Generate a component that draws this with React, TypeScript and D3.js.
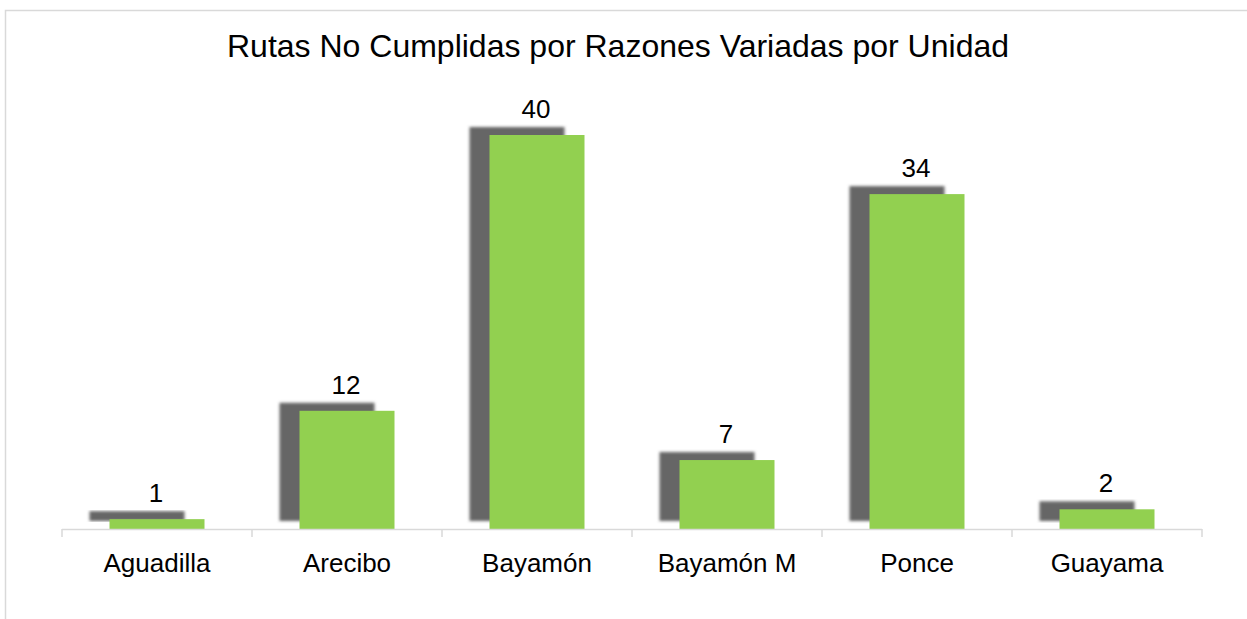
import * as d3 from 'd3';

const CATEGORIES = ['Aguadilla', 'Arecibo', 'Bayamón', 'Bayamón M', 'Ponce', 'Guayama'];
const VALUES = [1, 12, 40, 7, 34, 2];
const TITLE = 'Rutas No Cumplidas por Razones Variadas por Unidad';

const W = 1247;
const H = 619;
const FONT = '"Liberation Sans", Arial, sans-serif';

export default function App() {
  const x = d3.scaleBand<string>().domain(CATEGORIES).range([62, 1202]).paddingInner(0.5).paddingOuter(0.25);
  const band = d3.scaleBand<string>().domain(CATEGORIES).range([62, 1202]);
  const y = d3.scaleLinear().domain([0, 40]).range([529, 135]);
  const base = y(0);
  // shadow offset (left/up)
  const dx = -20;
  const dy = -8;

  return (
    <svg width={W} height={H} style={{ position: 'absolute', left: 0, top: 0, background: '#fff' }}>
      <defs>
        <filter id="blur" x="-10%" y="-10%" width="120%" height="120%">
          <feGaussianBlur stdDeviation="1.4" />
        </filter>
      </defs>
      <rect x={5.5} y={10.5} width={W + 20} height={H + 20} fill="#fff" stroke="#d9d9d9" strokeWidth={1.5} />

      <text x={618} y={57} textAnchor="middle" fontFamily={FONT} fontSize={32} fill="#000">{TITLE}</text>

      {/* shadows */}
      {CATEGORIES.map((c, i) => (
        <rect key={'s' + c} x={(x(c) ?? 0) + dx} y={y(VALUES[i]) + dy} width={x.bandwidth()}
          height={base - y(VALUES[i])} fill="#666666" filter="url(#blur)" />
      ))}
      {/* bars */}
      {CATEGORIES.map((c, i) => (
        <rect key={'b' + c} x={x(c)} y={y(VALUES[i])} width={x.bandwidth()}
          height={base - y(VALUES[i])} fill="#92D050" />
      ))}

      {/* axis */}
      <line x1={62} x2={1202} y1={base + 0.5} y2={base + 0.5} stroke="#d9d9d9" strokeWidth={1.5} />
      {[...CATEGORIES.map((c) => band(c) ?? 0), 1202].map((t, i) => (
        <line key={'t' + i} x1={t} x2={t} y1={base} y2={base + 8} stroke="#d9d9d9" strokeWidth={1.5} />
      ))}

      {CATEGORIES.map((c, i) => (
        <text key={'v' + c} x={(band(c) ?? 0) + band.bandwidth() / 2 - 1} y={y(VALUES[i]) - 17}
          textAnchor="middle" fontFamily={FONT} fontSize={26} fill="#000">{VALUES[i]}</text>
      ))}
      {CATEGORIES.map((c) => (
        <text key={'c' + c} x={(band(c) ?? 0) + band.bandwidth() / 2} y={572}
          textAnchor="middle" fontFamily={FONT} fontSize={26} fill="#000">{c}</text>
      ))}
    </svg>
  );
}
